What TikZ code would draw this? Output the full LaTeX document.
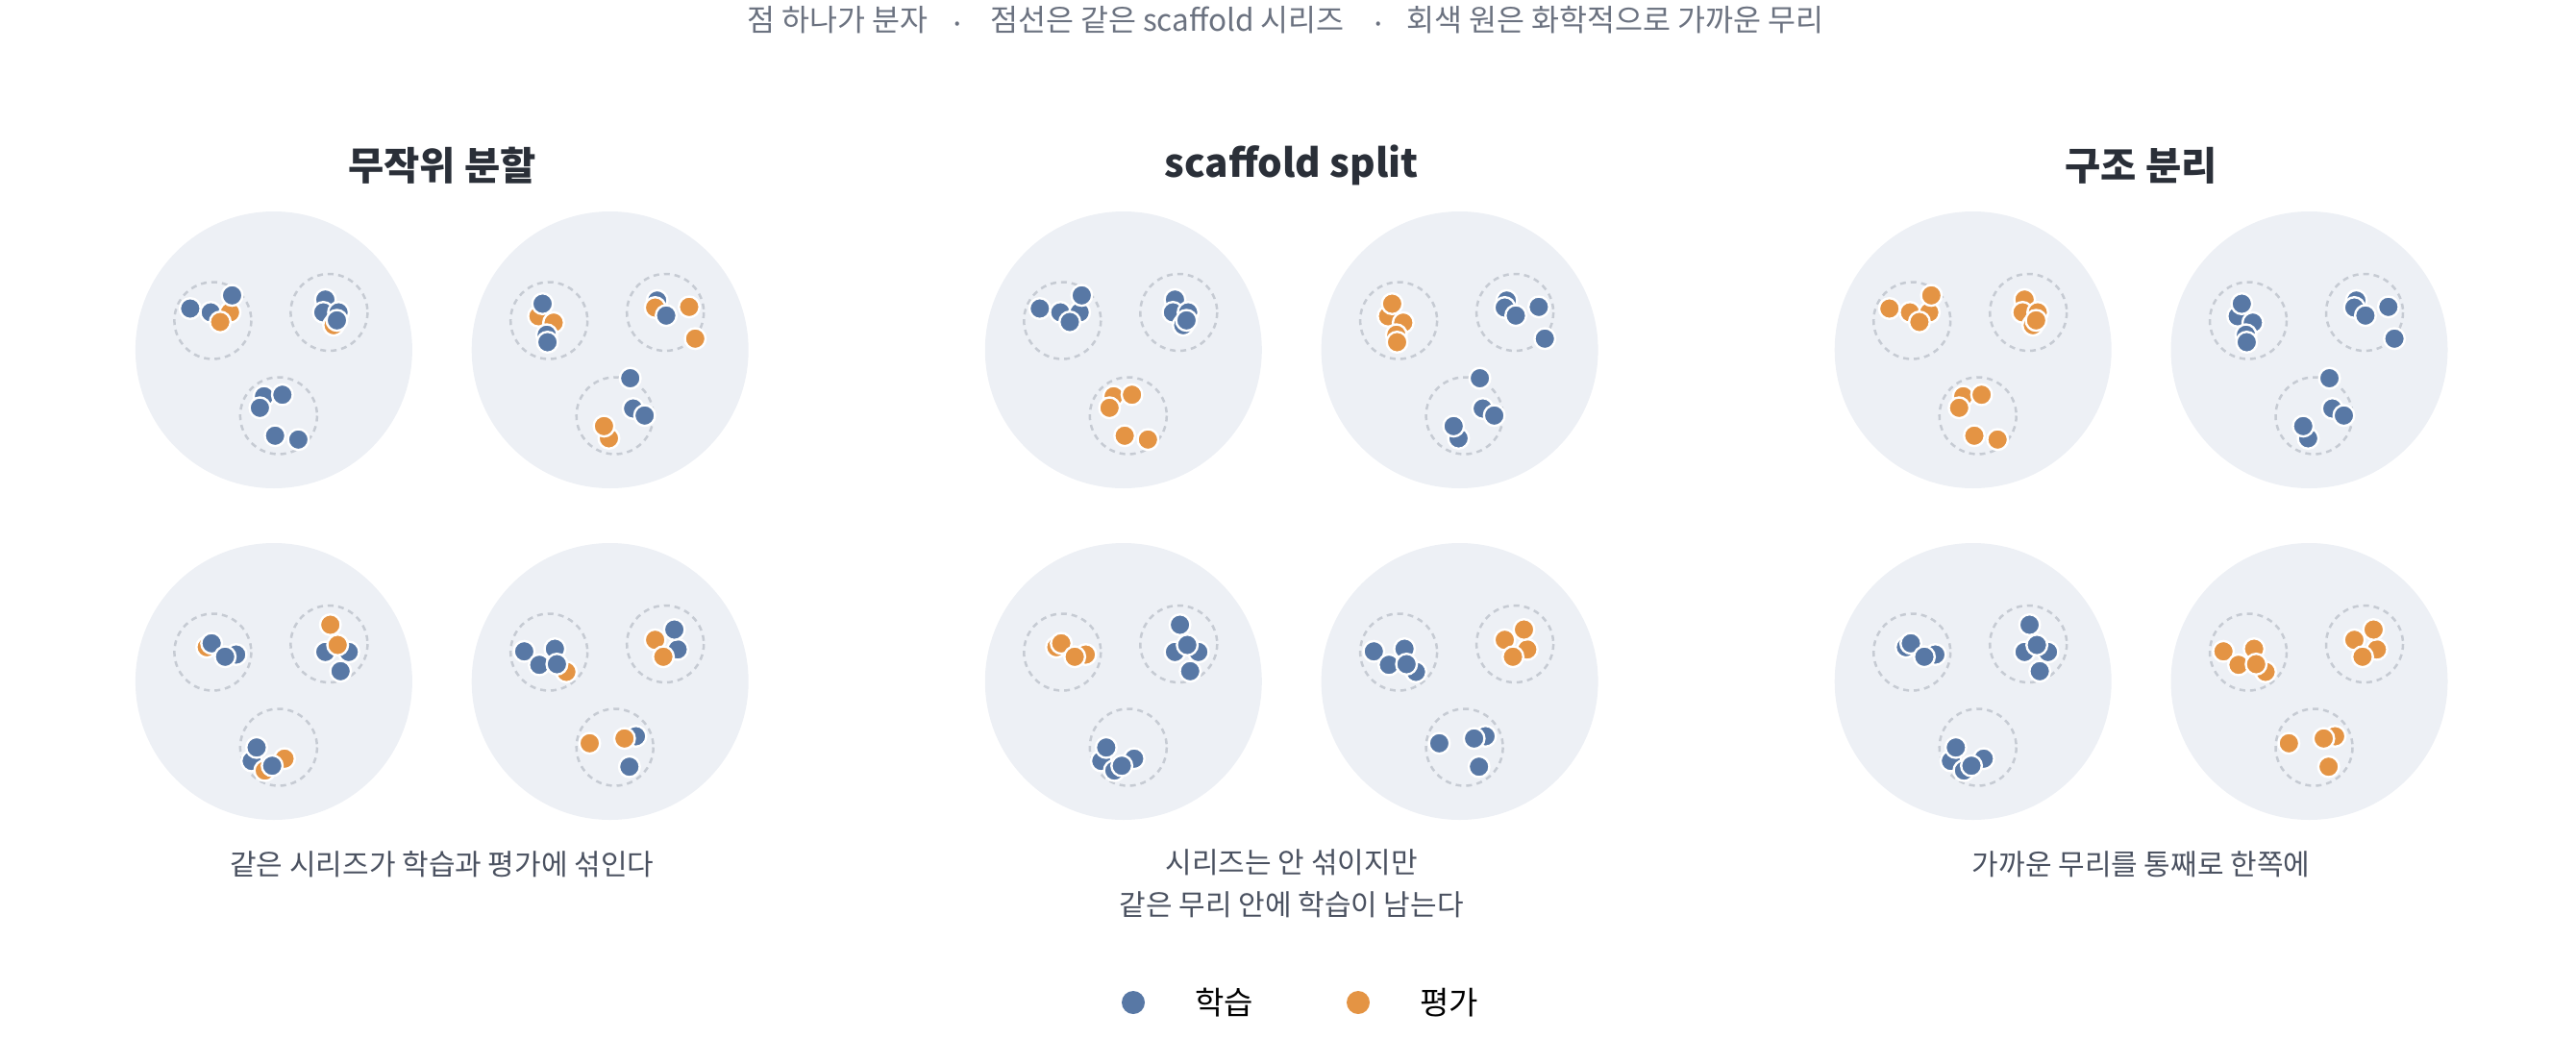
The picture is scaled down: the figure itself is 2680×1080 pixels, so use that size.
\documentclass[tikz,border=0pt]{standalone}
\usepackage{fontspec}
\setmainfont{Noto Sans CJK KR}
\usepackage{tikz}
\usetikzlibrary{positioning}

\definecolor{trn}{RGB}{88,120,165}
\definecolor{evl}{RGB}{228,148,68}
\definecolor{cloudfill}{RGB}{237,240,245}
\definecolor{scafline}{RGB}{198,203,211}
\definecolor{titletext}{RGB}{42,47,56}
\definecolor{notetext}{RGB}{74,81,96}
\definecolor{subtext}{RGB}{107,114,128}

\tikzset{
  cloud/.style={fill=cloudfill},
  scaf/.style={draw=scafline,line width=2.5pt,dash pattern=on 6pt off 5pt},
  mol/.style={fill=#1,draw=white,line width=2.4pt},
  title/.style={inner sep=0pt,text=titletext,font=\fontsize{40.5}{46}\selectfont\bfseries},
  note/.style={inner sep=0pt,text=notetext,font=\fontsize{30}{44}\selectfont,align=center},
  sub/.style={inner sep=0pt,anchor=base,text=subtext,font=\fontsize{31.5}{36}\selectfont},
  keydot/.style={circle,inner sep=0pt,minimum size=24pt},
  keylbl/.style={inner sep=0pt,text=black,font=\fontsize{33}{38}\selectfont}
}

% dots of one grey circle, drawn in all three panels
% #1,#2 = circle centre (x offset from panel middle, y); #3 = dx/dy/colour in panel 1/2/3
\newcommand{\molset}[3]{%
  \foreach \dx/\dy/\ca/\cb/\cc in {#3} {
    \draw[mol=\ca] ({459.8+(#1)+(\dx)},{(#2)+(\dy)}) circle (10.8);
    \draw[mol=\cb] ({1343.7+(#1)+(\dx)},{(#2)+(\dy)}) circle (10.8);
    \draw[mol=\cc] ({2227.6+(#1)+(\dx)},{(#2)+(\dy)}) circle (10.8);
  }%
}

\begin{document}
\begin{tikzpicture}[x=1pt,y=1pt,yscale=-1,xscale=1]
\useasboundingbox (0,0) rectangle (2680,1080);

%Shape: grey circles and dashed scaffold rings
\foreach \px in {459.8,1343.7,2227.6} {
  \foreach \cx/\cy in {-174.9/364,174.9/364,-174.9/709,174.9/709} {
    \fill[cloud] ({\px+(\cx)},\cy) circle (144);
    \foreach \sx/\sy in {-63.5/-30.5,57.5/-39,5/68.5}
      \draw[scaf] ({\px+(\cx)+(\sx)},{\cy+(\sy)}) circle (40);
  }
}

%Shape: molecules, top left circle
\molset{-174.9}{364}{
  -87/-43/trn/trn/evl, -65.6/-39/trn/trn/evl, -45.6/-39/evl/trn/evl, -43.4/-56.7/trn/trn/evl, -55.8/-29/evl/trn/evl,
  53.6/-52.3/trn/trn/evl, 51.5/-39/trn/trn/evl, 67.3/-39/trn/trn/evl, 62.2/-25.7/evl/trn/evl, 65.6/-30.7/trn/trn/evl,
  -10.2/48.3/trn/evl/evl, 8.9/46.7/trn/evl/evl, -14.5/60.3/trn/evl/evl, 1.3/89.3/trn/evl/evl, 25.5/93.3/trn/evl/evl}
%Shape: molecules, top right circle
\molset{174.9}{364}{
  -74.5/-35/evl/evl/trn, -70.2/-48/trn/evl/trn, -58.7/-28.3/evl/evl/trn, -65.9/-15.7/trn/evl/trn, -65.1/-8/trn/evl/trn,
  49/-51.3/trn/trn/trn, 46.9/-44/evl/trn/trn, 58.4/-35.7/trn/trn/trn, 82.3/-44.7/evl/trn/trn, 88.6/-11.7/evl/trn/trn,
  21/29.5/trn/trn/trn, 24/61/trn/trn/trn, 36/68.3/trn/trn/trn, -1.2/92/evl/trn/trn, -6.3/79.3/evl/trn/trn}
%Shape: molecules, bottom left circle
\molset{-174.9}{709}{
  -69.8/-35.7/evl/evl/trn, -64.7/-39.7/trn/evl/trn, -39.2/-28/trn/evl/trn, -50.7/-25.7/trn/evl/trn,
  58.8/-59/evl/trn/trn, 53.6/-30.7/trn/trn/trn, 77.9/-30.7/trn/trn/trn, 66.4/-38/evl/trn/trn, 69.4/-10.7/trn/trn/trn,
  -23/82.7/trn/trn/trn, -17.9/68.7/trn/trn/trn, 11.1/80.3/evl/trn/trn, -9.4/92.7/evl/trn/trn, -1.7/87.7/trn/trn/trn}
%Shape: molecules, bottom right circle
\molset{174.9}{709}{
  -89.3/-31.3/trn/trn/evl, -73.6/-17.3/trn/trn/evl, -57.4/-34/trn/trn/evl, -45.5/-10/evl/trn/evl, -55.3/-18/trn/trn/evl,
  70.3/-33.3/trn/evl/evl, 46.9/-43.3/evl/evl/evl, 66.9/-54/trn/evl/evl, 55.4/-25.7/evl/evl/evl,
  -21.2/64.3/evl/trn/evl, 26.9/57/trn/trn/evl, 15/59.3/evl/trn/evl, 20.1/88.7/trn/trn/evl}

% Text Node
\node[sub] (subdot) at (871,32) {점 하나가 분자};
\node[sub] (subsepa) at (996,36.5) {·};
\node[sub] (subring) at (1214.5,32) {점선은 같은 scaffold 시리즈};
\node[sub] (subsepb) at (1434,36.5) {·};
\node[sub] (subcloud) at (1680.5,32) {회색 원은 화학적으로 가까운 무리};
% Text Node
\node[title] (ttlrand) at (459.8,172) {무작위 분할};
\node[title] (ttlscaf) at (1343.7,172) {scaffold split};
\node[title] (ttlstruct) at (2227.6,172) {구조 분리};
% Text Node
\node[note] (noterand) at (459.8,899) {같은 시리즈가 학습과 평가에 섞인다};
\node[note] (notescaf) at (1343.7,919) {시리즈는 안 섞이지만\\같은 무리 안에 학습이 남는다};
\node[note] (notestruct) at (2227.6,899) {가까운 무리를 통째로 한쪽에};

% Legend
\node[keydot,fill=trn] (keytrn) at (1179,1043) {};
\node[keylbl,right=52pt of keytrn] (lbltrn) {학습};
\node[keydot,fill=evl] (keyevl) at (1413,1043) {};
\node[keylbl,right=52pt of keyevl] (lblevl) {평가};
\end{tikzpicture}
\end{document}
